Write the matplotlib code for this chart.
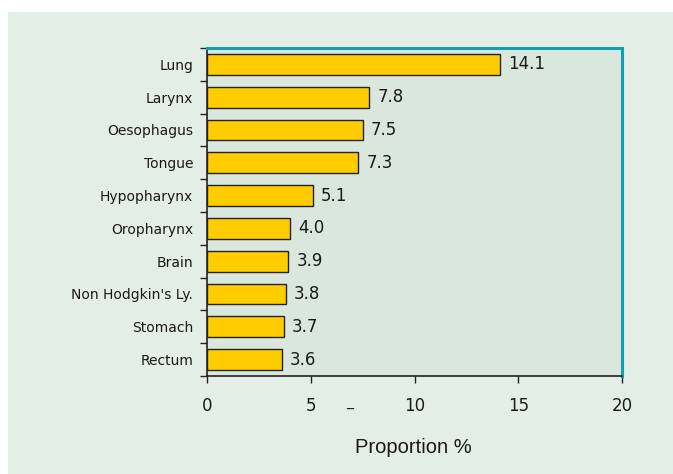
import matplotlib.pyplot as plt
from matplotlib.patches import Rectangle

# Data
sites = ['Lung', 'Larynx', 'Oesophagus', 'Tongue', 'Hypopharynx',
         'Oropharynx', 'Brain', "Non Hodgkin's Ly.", 'Stomach', 'Rectum']
proportions = [14.1, 7.8, 7.5, 7.3, 5.1, 4.0, 3.9, 3.8, 3.7, 3.6]
xticks = [0, 5, 10, 15, 20]

plt.rcParams['font.family'] = ['DejaVu Sans']
textcolor = '#1a1a1a'

fig = plt.figure(figsize=(6.73, 4.74), dpi=100)
fig.patch.set_facecolor('white')
# light green panel behind the chart
fig.patches.append(Rectangle((8 / 673, 0), 1, 1 - 12 / 474, transform=fig.transFigure,
                             facecolor='#e3eee6', edgecolor='none', zorder=-10))

ax = fig.add_axes([207 / 673, 1 - 376 / 474, 415 / 673, 328 / 474])
ax.set_zorder(1)
ax.set_facecolor('#dae7dd')

positions = list(range(len(sites)))
ax.barh(positions, proportions, height=0.63, color='#ffcc00', edgecolor='#222222',
        linewidth=1.0, zorder=3)

# value labels
for pos, val in zip(positions, proportions):
    ax.annotate('%.1f' % val, (val, pos), xytext=(6, 0), textcoords='offset points',
                va='center', ha='left', fontsize=12, color=textcolor)

ax.set_xlim(0, 20)
ax.set_ylim(len(sites) - 0.5, -0.5)

# category labels centred on bars, tick marks between bars
ax.set_yticks(positions)
ax.set_yticklabels(sites, fontsize=10, color=textcolor)
ax.tick_params(axis='y', which='major', length=0, pad=10)
ax.set_yticks([p - 0.5 for p in positions] + [len(sites) - 0.5], minor=True)
ax.tick_params(axis='y', which='minor', length=5, width=1, color='#222222', direction='out')

ax.set_xticks(xticks)
ax.set_xticklabels([str(t) for t in xticks], fontsize=12, color=textcolor)
ax.tick_params(axis='x', length=5, width=1, color='#222222', direction='out', pad=10)

# axis title
fig.text(413.5 / 673, 1 - 453 / 474, 'Proportion %', fontsize=14.5, ha='center',
         va='baseline', color=textcolor, family=['Liberation Sans', 'DejaVu Sans'])

for side in ['top', 'right']:
    ax.spines[side].set_color('#12a0b0')
    ax.spines[side].set_linewidth(2.2)
for side in ['left', 'bottom']:
    ax.spines[side].set_color('#222222')
    ax.spines[side].set_linewidth(1.2)

# stray mark seen under the axis in the original
fig.text(350 / 673, 1 - 410 / 474, '_', fontsize=10, ha='center', va='bottom', color=textcolor)

fig.savefig('out.png', dpi=100, facecolor=fig.get_facecolor())
